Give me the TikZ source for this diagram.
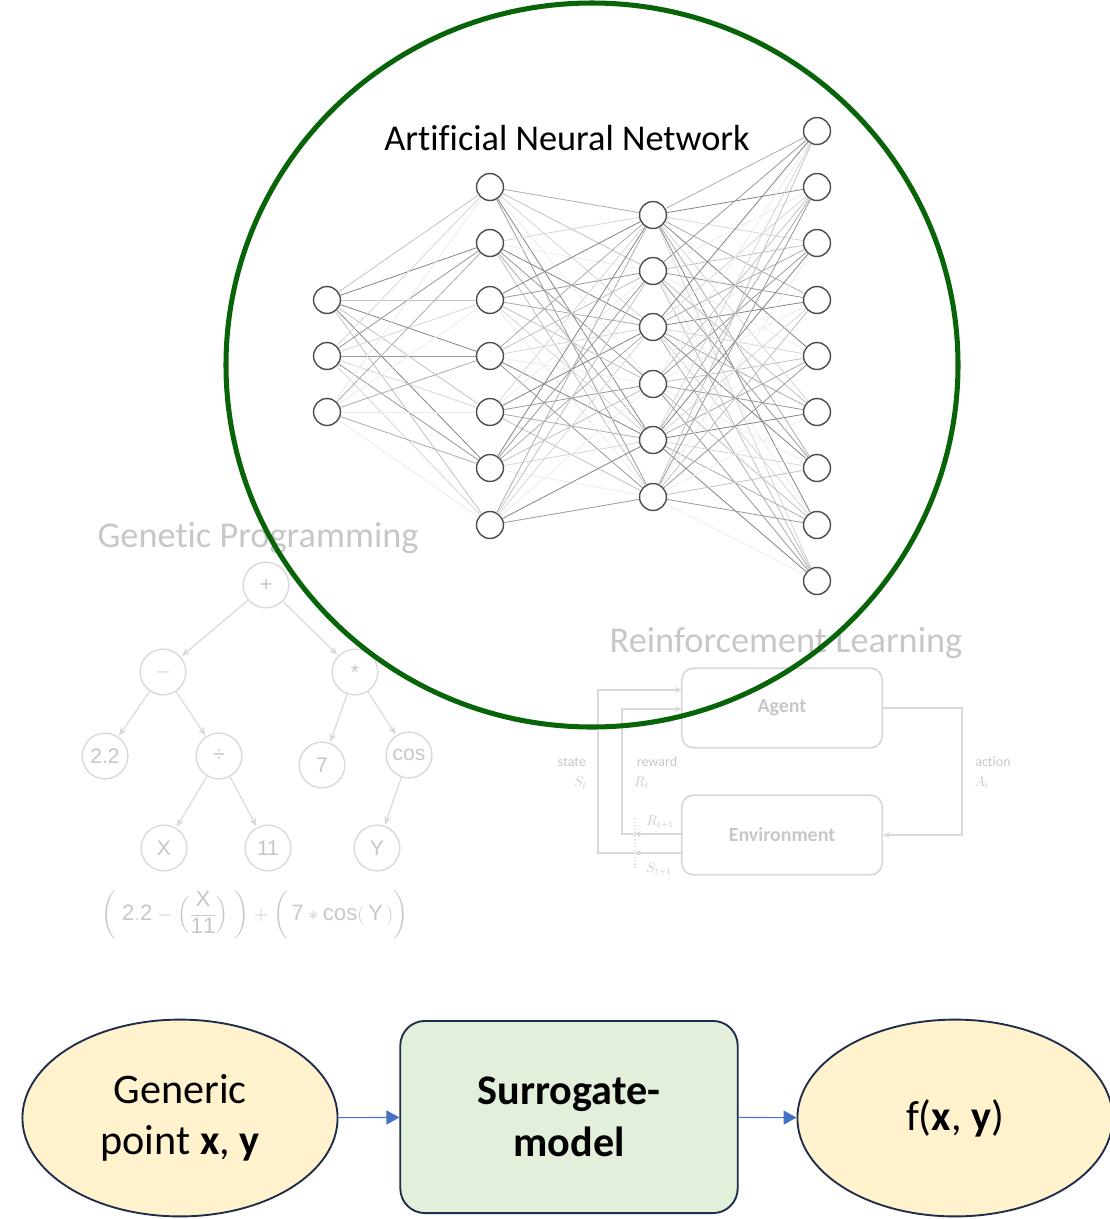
\documentclass[tikz,border=0pt]{standalone}
\usepackage{amsmath}
\usepackage{fontspec}
\setmainfont{Carlito}[Ligatures=NoCommon]
\setsansfont{Liberation Sans}
\usetikzlibrary{arrows.meta,shapes.geometric}

\definecolor{ringgreen}{RGB}{8,100,8}
\definecolor{navyline}{HTML}{1F2D4D}
\definecolor{inputfill}{HTML}{FFF2CC}
\definecolor{modelfill}{HTML}{E2EFDA}
\definecolor{flowblue}{HTML}{4472C4}
\definecolor{fadegray}{gray}{0.78}
\definecolor{fadeline}{gray}{0.85}

\tikzset{
  bigtitle/.style={font=\fontsize{31}{36}\selectfont},
  fadetitle/.style={bigtitle, text=fadegray},
  neuron/.style={circle, draw=black!70, fill=white, line width=1.2pt,
                 minimum size=23pt, inner sep=0pt},
  annedge/.style={line width=0.7pt},
  gpnode/.style={circle, draw=fadeline, fill=white, line width=1.2pt,
                 minimum size=39pt, inner sep=0pt, text=fadegray,
                 font=\sffamily\fontsize{18}{20}\selectfont},
  gparrow/.style={draw=fadeline, line width=1pt,
                  -{Stealth[length=7pt,width=6pt]}, shorten >=1pt},
  rlbox/.style={draw=fadeline, rounded corners=10pt, line width=1.5pt,
                minimum width=171pt, minimum height=68pt,
                text=fadegray, font=\bfseries\fontsize{17}{20}\selectfont},
  rlline/.style={draw=fadeline, line width=1.4pt},
  rlarrow/.style={rlline, -{Stealth[length=6pt,width=5pt]}},
  rllabel/.style={text=fadegray, font=\fontsize{12}{17}\selectfont, align=center},
  flowshape/.style={draw=navyline, line width=1.6pt,
                    font=\fontsize{36}{44}\selectfont, align=center},
  inout/.style={flowshape, ellipse, fill=inputfill, inner sep=0pt,
                minimum width=269pt, minimum height=168pt},
  modelbox/.style={flowshape, rectangle, fill=modelfill, rounded corners=21pt,
                   minimum width=288pt, minimum height=164pt},
  flow/.style={draw=flowblue, line width=0.9pt,
               -{Triangle[length=11pt,width=12pt]}}
}

\begin{document}
\begin{tikzpicture}[x=0.03cm, y=-0.03cm]
\useasboundingbox (0,0) rectangle (1110,1219);

% ---------- Genetic programming tree ----------
\node[fadetitle] (gptitle) at (258,538) {Genetic Programming};
\node[gpnode] (plus)  at (266,585) {+};
\node[gpnode] (minus) at (163,672) {$-$};
\node[gpnode] (times) at (355,672) {*};
\node[gpnode] (c22)   at (105,756) {2.2};
\node[gpnode] (divid) at (219,756) {÷};
\node[gpnode] (c7)    at (322,765) {7};
\node[gpnode] (cosn)  at (409,755) {cos};
\node[gpnode] (vx)    at (164,848) {X};
\node[gpnode] (c11)   at (268,848) {11};
\node[gpnode] (vy)    at (377,848) {Y};
\draw[gparrow] (plus)  -- (minus);
\draw[gparrow] (plus)  -- (times);
\draw[gparrow] (minus) -- (c22);
\draw[gparrow] (minus) -- (divid);
\draw[gparrow] (times) -- (c7);
\draw[gparrow] (times) -- (cosn);
\draw[gparrow] (divid) -- (vx);
\draw[gparrow] (divid) -- (c11);
\draw[gparrow] (cosn)  -- (vy);
\node[text=fadegray, font=\sffamily\fontsize{19}{24}\selectfont] (formula) at (255,915)
  {$\biggl(\;\mathsf{2.2}-\Bigl(\dfrac{\mathsf{X}}{\mathsf{11}}\Bigr)\;\biggr)+\biggl(\,\mathsf{7}\ast\mathsf{cos}(\,\mathsf{Y}\,)\biggr)$};

% ---------- Reinforcement learning loop ----------
\node[fadetitle] (rltitle) at (786,643) {Reinforcement Learning};
\node[rlbox] (agent) at (782,708) {Agent};
\node[rlbox] (env)   at (782,835) {Environment};

\coordinate (actturn) at (962,708);
\coordinate (actdown) at (962,835);
\draw[rlarrow] (agent.east) -- (actturn) -- (actdown) -- (env.east);

\coordinate (rout)  at (682,834);
\coordinate (rmid)  at (634,834);
\coordinate (rlow)  at (622,834);
\coordinate (rhigh) at (622,709);
\coordinate (rin)   at (682,709);
\draw[rlarrow] (rout) -- (rmid);
\draw[rlarrow] (rmid) -- (rlow) -- (rhigh) -- (rin);

\coordinate (sout)  at (682,853);
\coordinate (smid)  at (634,853);
\coordinate (slow)  at (598,853);
\coordinate (shigh) at (598,690);
\coordinate (sin)   at (682,690);
\draw[rlarrow] (sout) -- (smid);
\draw[rlarrow] (smid) -- (slow) -- (shigh) -- (sin);

\coordinate (septop) at (635,818);
\coordinate (sepbot) at (635,870);
\draw[draw=fadeline, line width=1pt, dotted] (septop) -- (sepbot);

\node[rllabel] (lstate)  at (572,773) {state\\\hspace*{1.2em}$S_t$};
\node[rllabel] (lreward) at (657,773) {reward\\\hspace*{-2.2em}$R_t$};
\node[rllabel] (laction) at (993,773) {action\\\hspace*{-1.6em}$A_t$};
\node[rllabel] (lrnext)  at (660,822) {$R_{t+1}$};
\node[rllabel] (lsnext)  at (659,869) {$S_{t+1}$};

% ---------- Artificial neural network ----------
\node[bigtitle] (anntitle) at (567,138) {Artificial Neural Network};
\foreach \i/\yy in {1/300,2/356,3/412}
  \node[neuron] (a\i) at (327,\yy) {};
\foreach \i/\yy in {1/187,2/243,3/300,4/356,5/412,6/468,7/525}
  \node[neuron] (b\i) at (490,\yy) {};
\foreach \i/\yy in {1/215,2/271,3/327,4/384,5/440,6/497}
  \node[neuron] (c\i) at (653,\yy) {};
\foreach \i/\yy in {1/131,2/187,3/243,4/300,5/356,6/412,7/468,8/525,9/581}
  \node[neuron] (d\i) at (817,\yy) {};

\foreach \i in {1,...,3}
  \foreach \j in {1,...,7}{
    \pgfmathtruncatemacro\shade{8+8*mod(\i*5+\j*3,6)}
    \draw[annedge, draw=black!\shade] (a\i) -- (b\j);
  }
\foreach \i in {1,...,7}
  \foreach \j in {1,...,6}{
    \pgfmathtruncatemacro\shade{8+8*mod(\i*4+\j*5,6)}
    \draw[annedge, draw=black!\shade] (b\i) -- (c\j);
  }
\foreach \i in {1,...,6}
  \foreach \j in {1,...,9}{
    \pgfmathtruncatemacro\shade{8+8*mod(\i*7+\j*2,6)}
    \draw[annedge, draw=black!\shade] (c\i) -- (d\j);
  }

% ---------- ring around the network ----------
\draw[ringgreen, line width=4.3pt] (592,365) circle [x radius=366, y radius=362];

% ---------- surrogate model flow ----------
\node[inout]    (inp)  at (180,1118) {Generic\\point \textbf{x}, \textbf{y}};
\node[modelbox] (surr) at (569,1117) {\textbf{Surrogate-}\\\textbf{model}};
\node[inout]    (outp) at (955,1118) {f(\textbf{x}, \textbf{y})};
\draw[flow] (inp) -- (surr);
\draw[flow] (surr) -- (outp);
\end{tikzpicture}
\end{document}
